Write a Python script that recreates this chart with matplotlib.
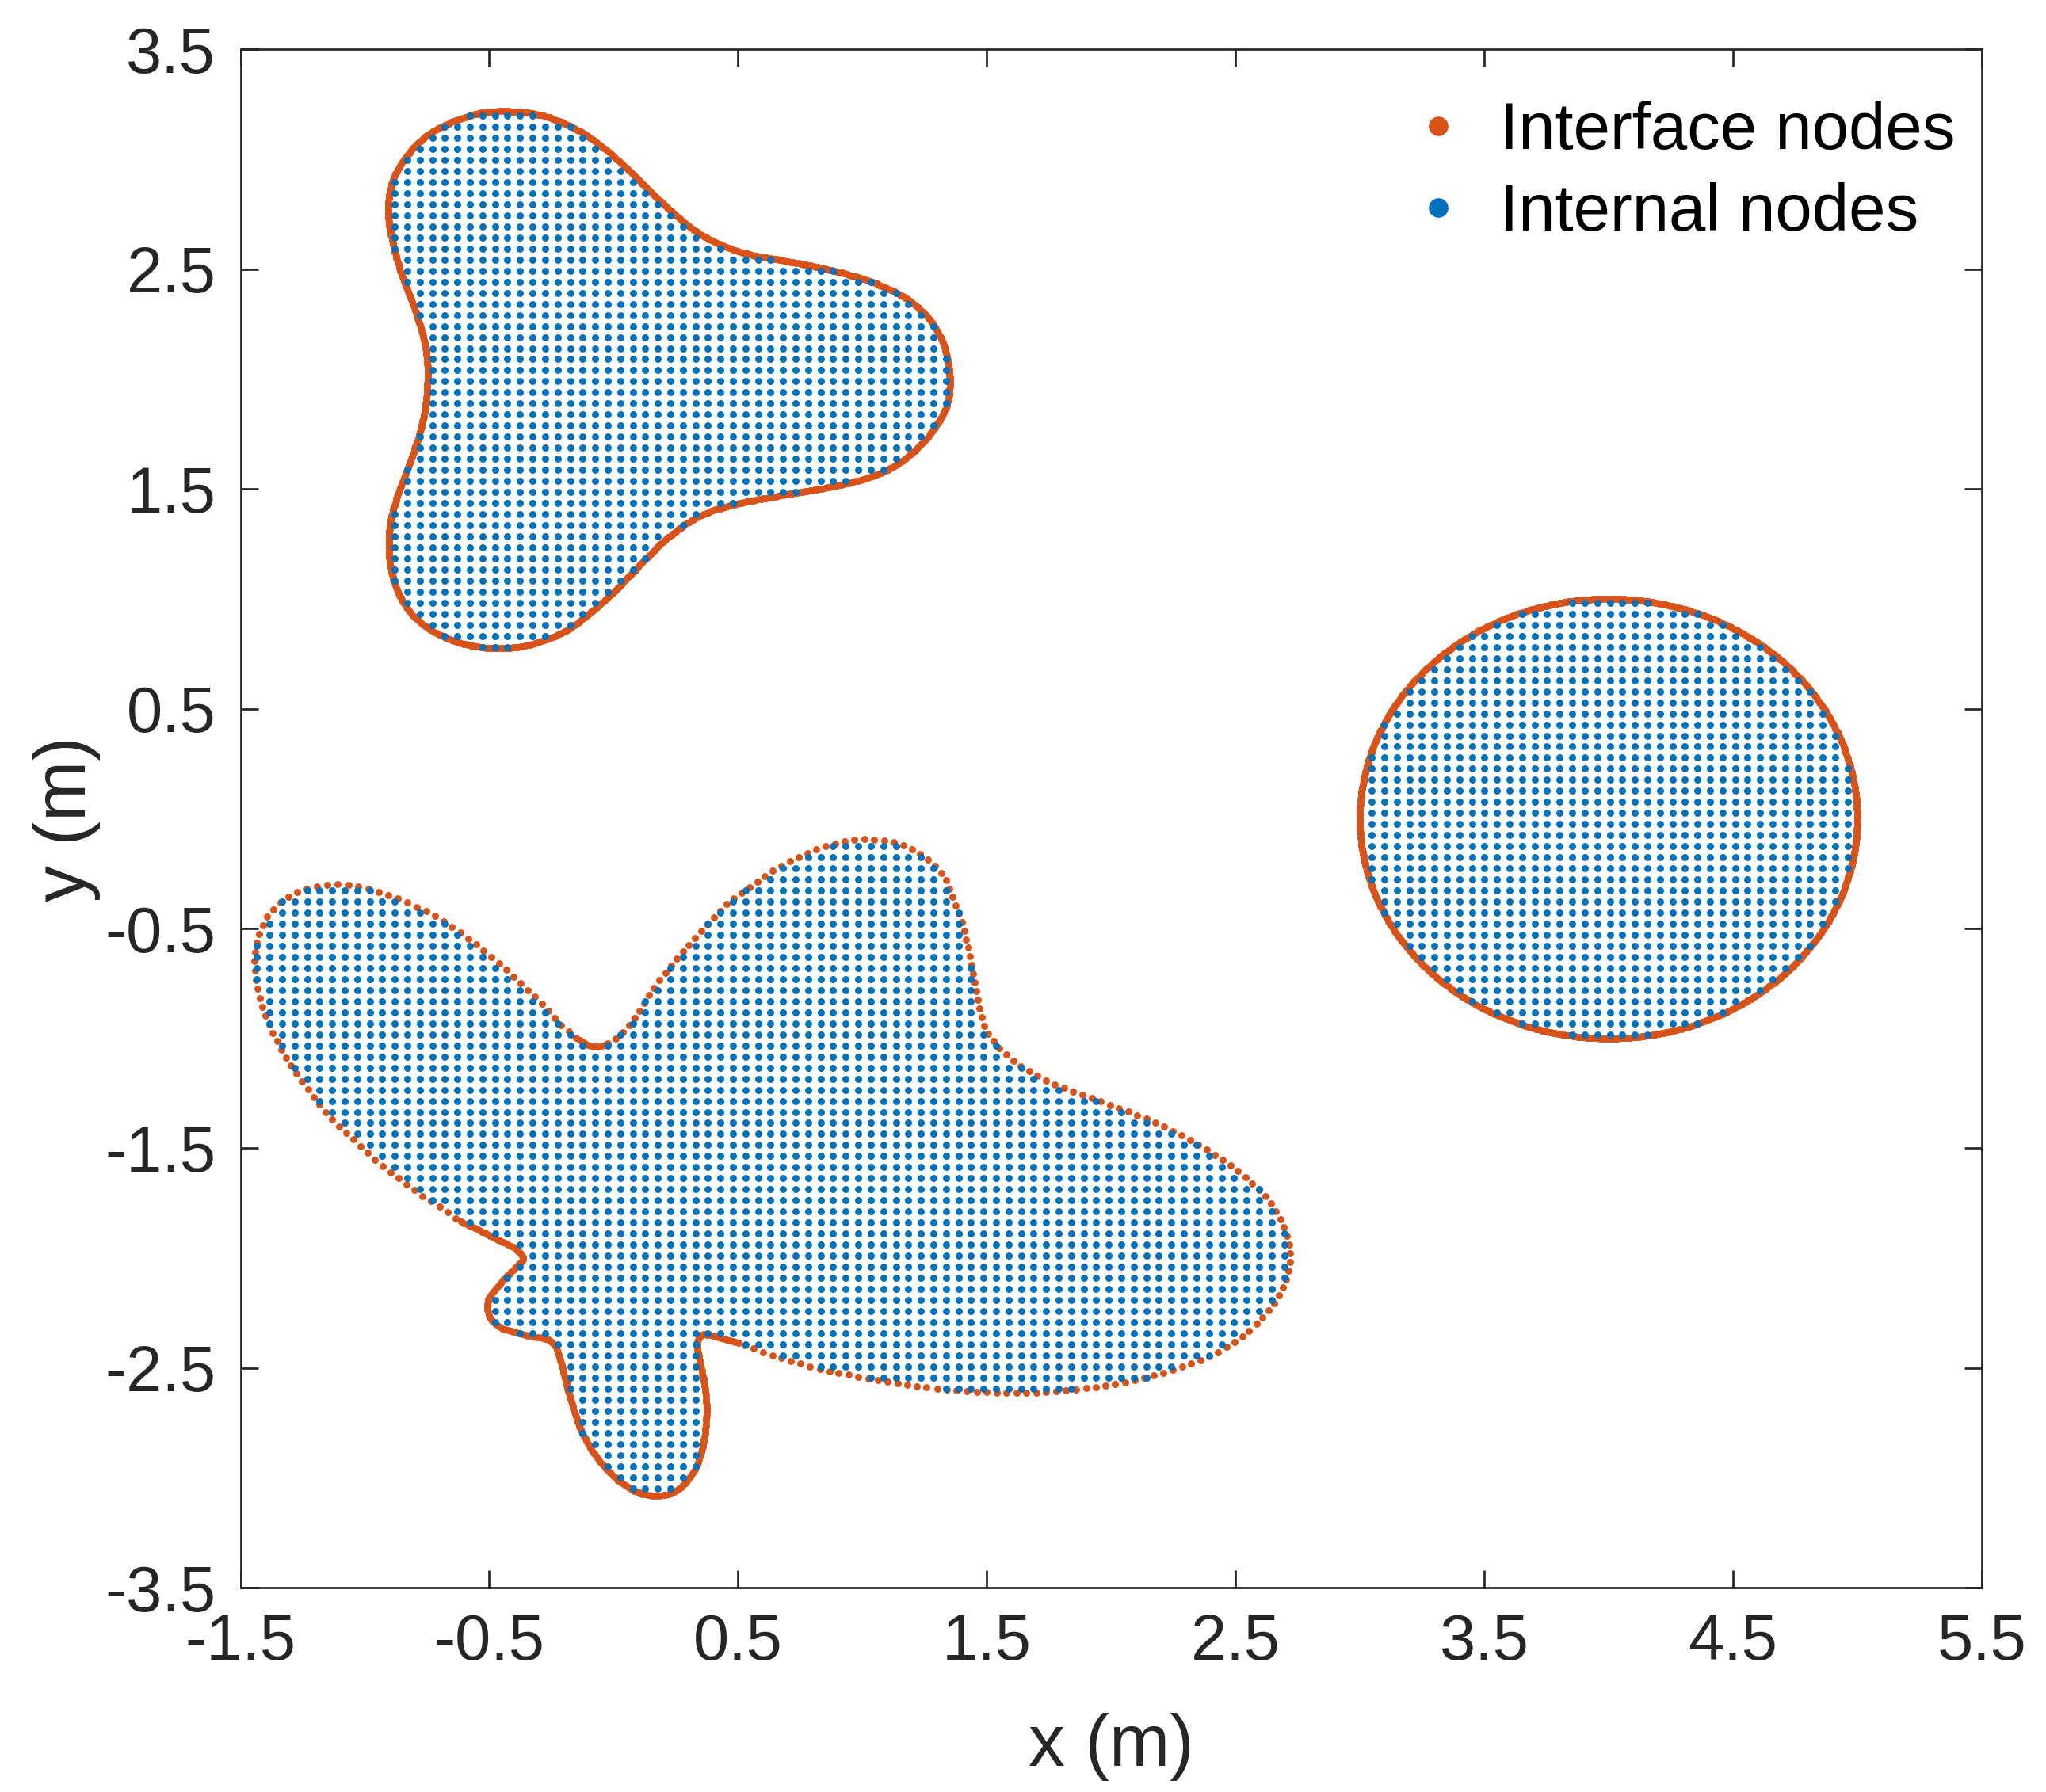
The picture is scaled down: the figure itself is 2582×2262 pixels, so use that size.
import numpy as np
import matplotlib
matplotlib.use('Agg')
import matplotlib.pyplot as plt
from matplotlib.path import Path

# outline points (m)
top_x = [1.352, 1.328, 1.273, 1.186, 1.075, 0.948, 0.806, 0.679, 0.552, 0.425, 0.330, 0.234,
         0.140, 0.044, -0.050, -0.146, -0.272, -0.399, -0.526, -0.636, -0.748, -0.834, -0.890,
         -0.906, -0.890, -0.859, -0.811, -0.771, -0.751, -0.748, -0.755, -0.779, -0.818, -0.867,
         -0.898, -0.903, -0.883, -0.834, -0.755, -0.636, -0.510, -0.399, -0.288, -0.177, -0.066,
         0.044, 0.140, 0.235, 0.346, 0.473, 0.616, 0.742, 0.869, 0.996, 1.122, 1.218, 1.288, 1.337]
top_y = [1.996, 2.152, 2.268, 2.359, 2.425, 2.474, 2.512, 2.540, 2.565, 2.614, 2.672, 2.763,
         2.862, 2.969, 3.060, 3.134, 3.195, 3.217, 3.212, 3.176, 3.110, 3.011, 2.895,
         2.763, 2.631, 2.499, 2.350, 2.218, 2.103, 1.996, 1.888, 1.756, 1.624, 1.476,
         1.344, 1.212, 1.080, 0.964, 0.873, 0.807, 0.777, 0.779, 0.807, 0.865, 0.964,
         1.080, 1.195, 1.294, 1.377, 1.426, 1.459, 1.484, 1.509, 1.542, 1.599, 1.682, 1.773, 1.872]

# lower shape, in pieces (the notch and stem carry finer interface spacing)
notch_x = [-0.036, -0.069, -0.102]
notch_y = [-1.029, -1.038, -1.031]

left_x = [-0.143, -0.203, -0.250, -0.298, -0.358, -0.424, -0.495, -0.572, -0.652, -0.736,
          -0.824, -0.907, -0.994, -1.079, -1.155, -1.223, -1.289, -1.343, -1.383, -1.414,
          -1.437, -1.444, -1.437, -1.420, -1.390, -1.352, -1.303, -1.245, -1.182, -1.115,
          -1.042, -0.967, -0.897, -0.822, -0.753, -0.686]
left_y = [-1.004, -0.948, -0.892, -0.830, -0.769, -0.694, -0.626, -0.556, -0.491, -0.432,
          -0.385, -0.348, -0.319, -0.301, -0.303, -0.316, -0.342, -0.385, -0.431, -0.494,
          -0.571, -0.651, -0.738, -0.828, -0.920, -1.016, -1.113, -1.208, -1.301, -1.388,
          -1.464, -1.544, -1.610, -1.672, -1.728, -1.776]

stem_x = [-0.618, -0.544, -0.470, -0.406, -0.369, -0.364, -0.396, -0.438, -0.475, -0.502,
          -0.507, -0.492, -0.454, -0.396, -0.322, -0.268, -0.236, -0.215, -0.199, -0.183,
          -0.162, -0.136, -0.098, -0.045, 0.018, 0.093, 0.167, 0.230, 0.284, 0.326,
          0.353, 0.369, 0.374, 0.369, 0.358, 0.342, 0.337, 0.353, 0.390, 0.444]
stem_y = [-1.829, -1.871, -1.913, -1.949, -1.985, -2.003, -2.045, -2.093, -2.141, -2.183,
          -2.231, -2.279, -2.314, -2.338, -2.356, -2.368, -2.398, -2.458, -2.530, -2.602,
          -2.686, -2.770, -2.854, -2.938, -3.009, -3.063, -3.081, -3.069, -3.027, -2.962,
          -2.878, -2.782, -2.686, -2.602, -2.530, -2.446, -2.386, -2.350, -2.350, -2.368]

right_x = [0.507, 0.617, 0.818, 1.049, 1.326, 1.628, 1.929, 2.199, 2.436, 2.600, 2.698, 2.719,
           2.683, 2.612, 2.546, 2.470, 2.384, 2.292, 2.199, 2.107, 2.014, 1.922, 1.839, 1.759,
           1.698, 1.636, 1.574, 1.520, 1.484, 1.466, 1.447, 1.432, 1.412, 1.389, 1.358, 1.319,
           1.250, 1.158, 1.064, 0.972, 0.892, 0.806, 0.722, 0.636, 0.555, 0.470, 0.400, 0.297,
           0.232, 0.181, 0.132, 0.092, 0.044, 0.001]
right_y = [-2.386, -2.434, -2.500, -2.552, -2.596, -2.613, -2.587, -2.526, -2.422, -2.282,
           -2.117, -1.960, -1.829, -1.707, -1.638, -1.568, -1.507, -1.446, -1.394, -1.350,
           -1.310, -1.272, -1.237, -1.202, -1.167, -1.127, -1.071, -1.002, -0.923, -0.827,
           -0.723, -0.618, -0.523, -0.435, -0.340, -0.249, -0.174, -0.117, -0.096, -0.096,
           -0.113, -0.144, -0.186, -0.238, -0.305, -0.374, -0.453, -0.583, -0.670, -0.741,
           -0.818, -0.899, -0.963, -1.005]

circle_center = (4.0, 0.0)
circle_radius = 1.0

# grid of internal nodes
grid_step = 0.05036
grid_x0 = -1.484
grid_y0 = -3.5

xticks = [-1.5, -0.5, 0.5, 1.5, 2.5, 3.5, 4.5, 5.5]
yticks = [-3.5, -2.5, -1.5, -0.5, 0.5, 1.5, 2.5, 3.5]
xtick_labels = ['-1.5', '-0.5', '0.5', '1.5', '2.5', '3.5', '4.5', '5.5']
ytick_labels = ['-3.5', '-2.5', '-1.5', '-0.5', '0.5', '1.5', '2.5', '3.5']

orange = '#D95319'
blue = '#0072BD'
dark = '#262626'


def spline_closed(px, py, per_seg=80):
    # centripetal catmull-rom through the outline points
    P = np.column_stack([px, py])
    n = len(P)
    pts, seg = [], []
    for i in range(n):
        p0, p1, p2, p3 = P[i - 1], P[i], P[(i + 1) % n], P[(i + 2) % n]
        t0 = 0.0
        t1 = t0 + max(np.linalg.norm(p1 - p0), 1e-9) ** 0.5
        t2 = t1 + max(np.linalg.norm(p2 - p1), 1e-9) ** 0.5
        t3 = t2 + max(np.linalg.norm(p3 - p2), 1e-9) ** 0.5
        t = np.linspace(t1, t2, per_seg, endpoint=False)[:, None]
        a1 = (t1 - t) / (t1 - t0) * p0 + (t - t0) / (t1 - t0) * p1
        a2 = (t2 - t) / (t2 - t1) * p1 + (t - t1) / (t2 - t1) * p2
        a3 = (t3 - t) / (t3 - t2) * p2 + (t - t2) / (t3 - t2) * p3
        b1 = (t2 - t) / (t2 - t0) * a1 + (t - t0) / (t2 - t0) * a2
        b2 = (t3 - t) / (t3 - t1) * a2 + (t - t1) / (t3 - t1) * a3
        pts.append((t2 - t) / (t2 - t1) * b1 + (t - t1) / (t2 - t1) * b2)
        seg.append(np.full(per_seg, i))
    return np.vstack(pts), np.concatenate(seg)


def interface_nodes(curve, seg, gaps):
    d = np.hypot(*np.diff(np.vstack([curve, curve[:1]]), axis=0).T)
    u = np.concatenate([[0.0], np.cumsum(d / gaps[seg])])[:-1]
    keep = np.diff(np.floor(u), prepend=-1.0) > 0
    return curve[keep]


gx, gy = np.meshgrid(np.arange(grid_x0, 5.5, grid_step), np.arange(grid_y0, 3.5, grid_step))
grid = np.column_stack([gx.ravel(), gy.ravel()])

# top shape
top_curve, top_seg = spline_closed(top_x, top_y)
top_nodes = interface_nodes(top_curve, top_seg, np.full(len(top_x), 0.01))

# lower shape
low_x = notch_x + left_x + stem_x + right_x
low_y = notch_y + left_y + stem_y + right_y
low_gaps = np.array([0.012] * len(notch_x) + [0.042] * len(left_x)
                    + [0.012] * len(stem_x) + [0.04] * len(right_x))
low_curve, low_seg = spline_closed(low_x, low_y)
low_nodes = interface_nodes(low_curve, low_seg, low_gaps)

# circle
ang = np.linspace(0, 2 * np.pi, 700, endpoint=False)
circ_curve = np.column_stack([circle_center[0] + circle_radius * np.cos(ang),
                              circle_center[1] + circle_radius * np.sin(ang)])

iface = np.vstack([top_nodes, low_nodes, circ_curve])
inner = np.vstack([grid[Path(c).contains_points(grid)] for c in (top_curve, low_curve, circ_curve)])

plt.rcParams['font.family'] = ['Liberation Sans', 'DejaVu Sans']
plt.rcParams['axes.unicode_minus'] = False

fig = plt.figure(figsize=(2582 / 300, 2262 / 300), dpi=300)
ax = fig.add_axes([0.11755, 0.11393, 0.85097, 0.85853])

dot = 2.15 ** 2
ax.scatter(iface[:, 0], iface[:, 1], s=dot, c=orange, linewidths=0, label='Interface nodes', zorder=2)
ax.scatter(inner[:, 0], inner[:, 1], s=dot, c=blue, linewidths=0, label='Internal nodes', zorder=3)

ax.set_xlim(-1.5, 5.5)
ax.set_ylim(-3.5, 3.5)
ax.set_xticks(xticks)
ax.set_xticklabels(xtick_labels)
ax.set_yticks(yticks)
ax.set_yticklabels(ytick_labels)
ax.tick_params(direction='in', length=5.3, width=0.65, pad=7.5, labelsize=19.5,
               top=True, right=True, colors=dark)
for s in ax.spines.values():
    s.set_linewidth(0.65)
    s.set_color(dark)

ax.set_xlabel('x (m)', fontsize=22, color=dark)
ax.set_ylabel('y (m)', fontsize=22, color=dark)
ax.xaxis.set_label_coords(0.5, -0.1033)
ax.xaxis.label.set_verticalalignment('center')
ax.yaxis.set_label_coords(-0.0999, 0.5)
ax.yaxis.label.set_verticalalignment('center')

ax.legend(loc='upper left', bbox_to_anchor=(0.690, 0.944), bbox_transform=fig.transFigure,
          frameon=False, fontsize=20, markerscale=2.75, handlelength=0.8, handletextpad=0.54,
          labelspacing=0.3, borderpad=0, borderaxespad=0, scatteryoffsets=[0.5])

fig.savefig('out.png', dpi=300)
